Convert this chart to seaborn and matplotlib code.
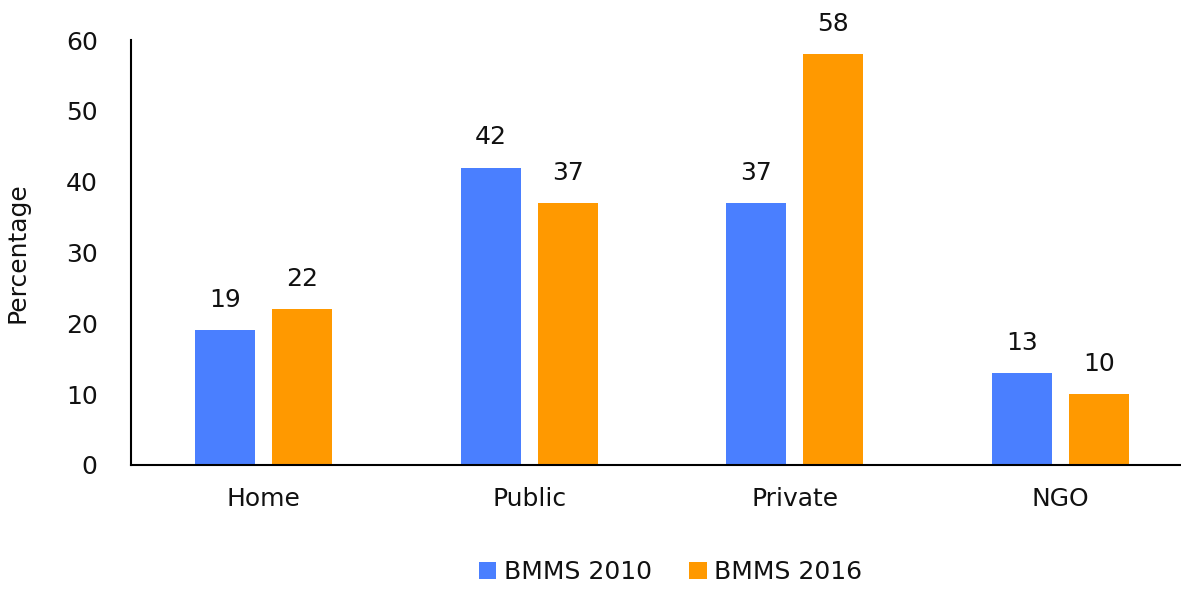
import pandas as pd
import matplotlib.pyplot as plt
import seaborn as sns

# Chart data
places = ['Home', 'Public', 'Private', 'NGO']
bmms_2010 = [19, 42, 37, 13]
bmms_2016 = [22, 37, 58, 10]
series_names = ['BMMS 2010', 'BMMS 2016']

df = pd.DataFrame({
    'Place': places * 2,
    'Survey': [series_names[0]] * len(places) + [series_names[1]] * len(places),
    'Percentage': bmms_2010 + bmms_2016,
})

sns.set_theme(style='white')
plt.rcParams['font.family'] = ['DejaVu Sans']

fig = plt.figure(figsize=(11.81, 5.89), dpi=100)
ax = fig.add_axes([131 / 1181, 1 - 465 / 589, 1062 / 1181, (465 - 40) / 589])

palette = {'BMMS 2010': '#4a7fff', 'BMMS 2016': '#ff9900'}
sns.barplot(data=df, x='Place', y='Percentage', hue='Survey', order=places,
            hue_order=series_names, palette=palette, width=0.58, gap=0.22,
            saturation=1, linewidth=0, ax=ax)

# value labels
for cont in ax.containers:
    ax.bar_label(cont, fmt='%g', padding=13, fontsize=18, color='#111111')

ax.set_ylim(0, 60)
ax.set_xlim(-0.5, 3.5)
ax.set_yticks(range(0, 61, 10))
ax.set_xlabel('')
ax.set_ylabel('Percentage', fontsize=18, labelpad=26, color='#111111')
ax.tick_params(axis='both', length=0, labelsize=18, colors='#111111')
ax.tick_params(axis='x', pad=16)
ax.tick_params(axis='y', pad=24)

for side in ['top', 'right']:
    ax.spines[side].set_visible(False)
for side in ['left', 'bottom']:
    ax.spines[side].set_color('black')
    ax.spines[side].set_linewidth(1.5)

ax.legend(loc='lower center', bbox_to_anchor=(0.568, -0.03), ncol=2,
          bbox_transform=fig.transFigure, frameon=False, fontsize=18,
          handlelength=0.7, handleheight=0.7, handletextpad=0.3,
          columnspacing=1.5, labelcolor='#111111')

fig.savefig('out.png', dpi=100)
